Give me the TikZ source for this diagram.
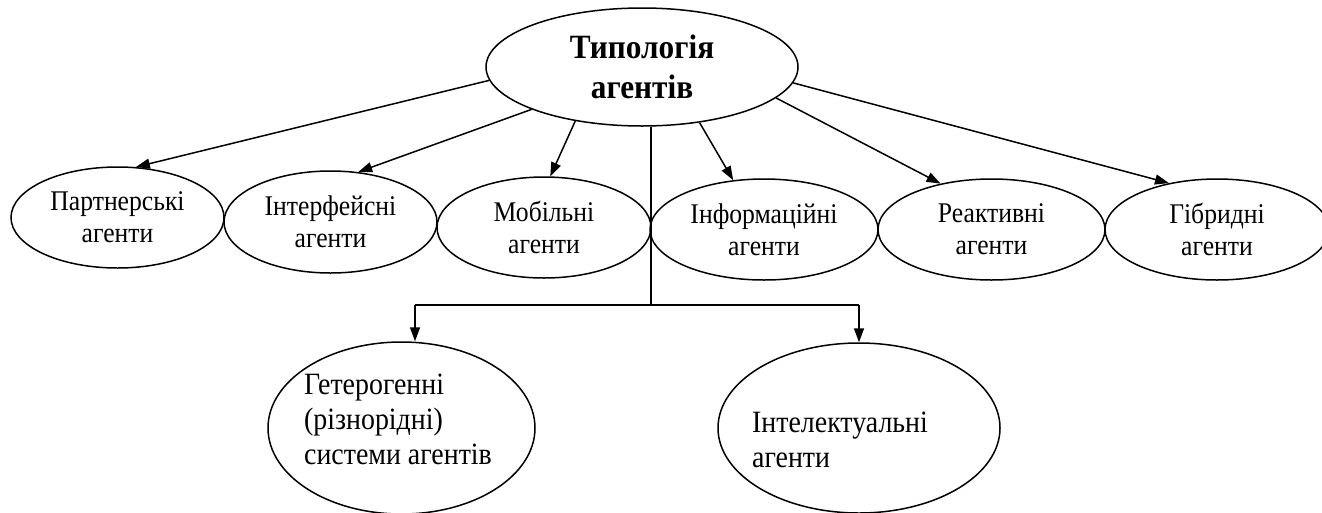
\documentclass[tikz,border=0pt]{standalone}
\usepackage{fontspec}
\setmainfont{Liberation Serif}
\newfontfamily\condfont[FakeStretch=0.9]{Liberation Serif}
\newfontfamily\condbold[FakeStretch=0.92]{Liberation Serif Bold}
\usetikzlibrary{arrows.meta,shapes.geometric}
\tikzset{
  ell/.style={ellipse, draw, line width=1.5pt, inner sep=0pt, align=center},
  rowtxt/.style={font=\condfont\fontsize{28.5}{32}\selectfont},
  titletxt/.style={font=\condbold\fontsize{34}{40}\selectfont},
  bottxt/.style={font=\condfont\fontsize{31}{35}\selectfont, align=left, inner sep=0pt},
  conn/.style={line width=1.5pt},
  arr/.style={line width=1.5pt, -{Triangle[length=14pt,width=10pt]}}
}
\begin{document}
\begin{tikzpicture}[x=1pt,y=-1pt]
\useasboundingbox (0,0) rectangle (1322,512);
\clip (0,0) rectangle (1322,512);
\node[ell, titletxt, minimum width=312pt, minimum height=118pt] (top) at (642,67) {Типологія\\агентів};
\node[ell, rowtxt, minimum width=213pt, minimum height=101pt] (part) at (117.5,217.5) {Партнерські\\агенти};
\node[ell, rowtxt, minimum width=213pt, minimum height=102pt] (intf) at (330.5,222) {Інтерфейсні\\агенти};
\node[ell, rowtxt, minimum width=214pt, minimum height=101pt] (mob) at (544,227.5) {Мобільні\\агенти};
\node[ell, rowtxt, minimum width=228pt, minimum height=101pt] (info) at (764,229.5) {Інформаційні\\агенти};
\node[ell, rowtxt, minimum width=227pt, minimum height=101pt] (react) at (991.5,229.5) {Реактивні\\агенти};
\node[ell, rowtxt, minimum width=224pt, minimum height=101pt] (hyb) at (1217,229.5) {Гібридні\\агенти};
\node[ell, minimum width=267pt, minimum height=172pt] (het) at (401.5,428) {};
\node[bottxt] (hettxt) at (398,419) {Гетерогенні\\(різнорідні)\\системи агентів};
\node[ell, minimum width=282pt, minimum height=170pt] (intel) at (859,428) {};
\node[bottxt] (inteltxt) at (840,440) {Інтелектуальні\\агенти};
\draw[arr] (top.185.5) -- (part.70.5);
\draw[arr] (top.201.3) -- (intf.61);
\draw[arr] (top.219) -- (mob.83);
\draw[arr] (top.316) -- (info.122.6);
\draw[arr] (top.347.3) -- (react.138.6);
\draw[arr] (top.354.9) -- (hyb.136);
\coordinate (junc) at (651,305);
\coordinate (hj) at (415,305);
\coordinate (ij) at (859,305);
\draw[conn] (junc |- top.south) -- (junc);
\draw[conn] (hj) -- (ij);
\draw[arr] (hj) -- (hj |- het.north);
\draw[arr] (ij) -- (intel.north);
\end{tikzpicture}
\end{document}
